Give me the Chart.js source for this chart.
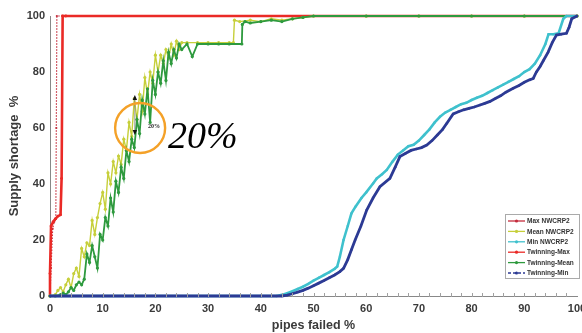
<!DOCTYPE html>
<html><head><meta charset="utf-8">
<script src="https://cdn.jsdelivr.net/npm/chart.js@4.4.0/dist/chart.umd.min.js"></script>
<style>html,body{margin:0;padding:0;background:#fff}canvas{display:block}</style>
</head><body>
<canvas id="c" width="582" height="333"></canvas>
<script>
// ---- data (x = pipes failed %, y = supply shortage %) ----
const maxNwcrpX = [0, 0.2, 0.5, 0.8, 1.1, 1.2, 1.3, 100];
const maxNwcrpY = [0, 10, 24, 26.5, 27.5, 60, 100, 100];

const meanNwcrpX = [0, 1, 1.5, 2, 2.5, 3, 3.5, 4, 4.5, 5, 5.5, 6, 6.5, 7, 7.5, 8, 8.5, 9, 9.5, 10, 10.5, 11, 11.5, 12, 12.5, 13, 13.5, 14, 14.5, 15, 15.5, 16, 16.5, 17, 17.5, 18, 18.5, 19, 19.5, 20, 20.5, 21, 21.5, 22, 22.5, 23, 23.5, 24, 24.5, 25, 26, 28, 30, 32, 34, 34.8, 35, 36, 38, 40, 42, 44, 46, 48, 50, 60, 70, 80, 90, 100];
const meanNwcrpY = [0, 0.5, 2, 3, 1.5, 4, 6, 3, 8, 10, 7, 17, 14, 19, 18, 27, 22, 28, 33, 37, 31, 44, 40, 48, 44, 50, 47, 56, 52, 62, 57, 70.5, 63, 72, 66, 78, 72, 80, 76, 86, 80, 86, 83, 88, 85, 90, 86, 91, 88, 90.5, 90.5, 90.5, 90.5, 90.5, 90.5, 90.5, 98.5, 98, 98.5, 98, 99, 98.5, 99, 99.5, 100, 100, 100, 100, 100, 100];

const minNwcrpX = [0, 10, 20, 30, 40, 43, 44, 45, 46, 47, 48, 49, 50, 51, 52, 53, 54, 54.5, 55, 55.7, 56.5, 57.2, 58, 59.1, 60, 61.3, 62, 63, 63.9, 65, 66, 67, 68, 69, 70, 71, 72, 73, 74, 75, 76, 77, 78, 79, 80, 81, 82, 83, 84, 85, 86, 87, 88, 89, 90, 91, 92, 93, 94, 94.6, 95.5, 96.5, 97.4, 98, 100];
const minNwcrpY = [0, 0, 0, 0, 0, 0, 0.4, 1, 1.7, 2.5, 3.3, 4.3, 5.5, 6.5, 7.5, 8.5, 9.7, 10.5, 14, 20, 25, 29.5, 32, 35, 37, 40.2, 42, 43.5, 45, 48, 50.5, 52, 53.5, 54, 55.5, 57.5, 59.5, 62, 64, 65.5, 66.5, 67.5, 68.5, 69, 70, 70.8, 71.5, 72.5, 73.5, 74.5, 75.5, 76.5, 77.5, 78.5, 80, 81, 83, 86, 90, 93.5, 93.5, 93.8, 99, 100, 100];

const twinMaxX = [0, 0, 0.2, 0.6, 1, 1.5, 2, 2.2, 2.4, 3, 100];
const twinMaxY = [0, 8, 25, 26.5, 27.5, 28.5, 29, 42, 100, 100, 100];

const twinMeanX = [0, 1, 2, 2.5, 3, 3.5, 4, 4.5, 5, 5.5, 6, 6.5, 7, 7.5, 8, 8.5, 9, 9.5, 10, 10.5, 11, 11.5, 12, 12.5, 13, 13.5, 14, 14.5, 15, 15.5, 16, 16.5, 17, 17.5, 18, 18.5, 19, 19.5, 20, 20.5, 21, 21.5, 22, 22.5, 23, 23.5, 24, 24.5, 25, 26, 27, 28, 30, 32, 34, 36.4, 36.5, 37, 38, 40, 42, 44, 46, 48, 50, 60, 70, 80, 90, 100];
const twinMeanY = [0, 0, 0.5, 1, 0.5, 1.5, 3, 2, 4, 5, 4, 6, 15, 12, 18, 14, 10, 22, 20, 28, 25, 35, 30, 41, 37, 46, 42, 52, 48, 56, 53, 63, 58, 70, 65, 74, 62, 77, 72, 80, 76, 84, 77, 87, 83, 88, 85, 90, 88, 90, 85.5, 90, 90, 90, 90, 90, 97, 98, 97.5, 98, 98.5, 98, 99, 99.5, 100, 100, 100, 100, 100, 100];

const twinMinX = [0, 10, 20, 30, 40, 44, 45, 46, 47, 48, 49, 50, 51, 52, 53, 54, 55, 55.7, 56.5, 57.2, 57.9, 59, 60.1, 61.3, 62.6, 64.5, 65.5, 66.4, 67.5, 68.5, 69.5, 70.5, 71.5, 72.5, 73.5, 74.5, 75.3, 76.5, 77.5, 78.5, 79.5, 80.5, 81.6, 82.5, 83.5, 84.5, 85.5, 86.5, 87.9, 89, 90, 91, 91.7, 92.3, 93, 93.6, 94.5, 95.3, 96.1, 97, 98, 98.5, 99, 100];
const twinMinY = [0, 0, 0, 0, 0, 0, 0.3, 0.8, 1.4, 2, 2.8, 3.7, 4.6, 5.5, 6.5, 7.5, 8.7, 9.9, 13, 16.5, 20, 25, 30.7, 35, 39, 42, 46, 49.8, 51, 52, 52.5, 53, 53.9, 55.5, 57.5, 59.5, 61.7, 65, 65.8, 66.5, 67, 67.5, 68.2, 68.8, 69.5, 70.5, 71.5, 72.8, 74.2, 75.2, 76.3, 77.2, 77.7, 80, 82, 84, 87, 90.5, 93.2, 93.5, 93.8, 96, 99, 100];

const seriesLabels = ['Max NWCRP2', 'Mean NWCRP2', 'Min NWCRP2', 'Twinning-Max', 'Twinning-Mean', 'Twinning-Min'];
const xTickStep = 10;
const yTickStep = 20;
const xAxisTitle = 'pipes failed %';
const yAxisTitle = 'Supply shortage  %';
// annotation: circle around the 20% gap, arrows, labels
const circleCenter = [17.1, 60];
const arrowUp = [16.1, 70.7];
const arrowDown = [16.1, 58.6];
const smallLabel = ['20%', 18.6, 60.4];
const bigLabel = ['20%', 22.4, 52.9];

// ---- chart ----
const pts = (xs, ys) => xs.map((x, i) => ({x: x, y: ys[i]}));
const FONT = '"Liberation Sans", Arial, sans-serif';

const minorTicks = {
  id: 'minorTicks',
  afterDraw(chart) {
    const {ctx, scales: {x, y}} = chart;
    ctx.save();
    ctx.strokeStyle = '#a0a0a0';
    ctx.lineWidth = 1;
    for (let v = 2; v < 100; v += 2) {
      const px = Math.round(x.getPixelForValue(v)) + 0.5;
      ctx.beginPath();
      ctx.moveTo(px, y.bottom + 1);
      ctx.lineTo(px, y.bottom - 3);
      ctx.stroke();
    }
    ctx.restore();
  }
};

const annot = {
  id: 'annot',
  afterDatasetsDraw(chart) {
    const {ctx, scales: {x, y}} = chart;
    ctx.save();
    ctx.strokeStyle = '#777';
    ctx.lineWidth = 0.8;
    ctx.beginPath();
    ctx.moveTo(x.getPixelForValue(arrowUp[0]), y.getPixelForValue(arrowUp[1]));
    ctx.lineTo(x.getPixelForValue(arrowDown[0]), y.getPixelForValue(arrowDown[1]));
    ctx.stroke();
    ctx.fillStyle = '#111';
    const ux = x.getPixelForValue(arrowUp[0]), uy = y.getPixelForValue(arrowUp[1]);
    ctx.beginPath(); ctx.moveTo(ux, uy - 3); ctx.lineTo(ux - 2.2, uy + 2); ctx.lineTo(ux + 2.2, uy + 2); ctx.closePath(); ctx.fill();
    const dx = x.getPixelForValue(arrowDown[0]), dy = y.getPixelForValue(arrowDown[1]);
    ctx.beginPath(); ctx.moveTo(dx, dy + 3); ctx.lineTo(dx - 2.2, dy - 2); ctx.lineTo(dx + 2.2, dy - 2); ctx.closePath(); ctx.fill();
    ctx.font = 'bold 6px "Liberation Serif", serif';
    ctx.textBaseline = 'middle';
    ctx.fillStyle = '#222';
    ctx.fillText(smallLabel[0], x.getPixelForValue(smallLabel[1]), y.getPixelForValue(smallLabel[2]));
    ctx.strokeStyle = '#f4a128';
    ctx.lineWidth = 2.4;
    ctx.beginPath();
    ctx.arc(x.getPixelForValue(circleCenter[0]), y.getPixelForValue(circleCenter[1]), 25, 0, Math.PI * 2);
    ctx.stroke();
    ctx.font = 'italic 38px "Liberation Serif", "Times New Roman", serif';
    ctx.textBaseline = 'alphabetic';
    ctx.fillStyle = '#000';
    ctx.fillText(bigLabel[0], x.getPixelForValue(bigLabel[1]), y.getPixelForValue(bigLabel[2]));
    ctx.restore();
  }
};

const boxLegend = {
  id: 'boxLegend',
  afterDraw(chart) {
    const {ctx, chartArea} = chart;
    const left = chartArea.right - 72, top = chartArea.bottom - 82, w = 75, h = 65;
    ctx.save();
    ctx.fillStyle = '#fff';
    ctx.fillRect(left, top, w, h);
    ctx.strokeStyle = '#aaa';
    ctx.lineWidth = 1;
    ctx.strokeRect(left + 0.5, top + 0.5, w - 1, h - 1);
    ctx.font = 'bold 6.5px ' + FONT;
    ctx.textBaseline = 'middle';
    chart.data.datasets.forEach((ds, i) => {
      const yy = top + 7 + i * 10.4;
      ctx.strokeStyle = ds.borderColor;
      ctx.lineWidth = 1.3;
      ctx.setLineDash(ds.legendDash || []);
      ctx.beginPath();
      ctx.moveTo(left + 3, yy);
      ctx.lineTo(left + 20, yy);
      ctx.stroke();
      ctx.setLineDash([]);
      ctx.fillStyle = ds.borderColor;
      ctx.beginPath();
      ctx.arc(left + 11.5, yy, 1.6, 0, Math.PI * 2);
      ctx.fill();
      ctx.fillStyle = '#333';
      ctx.fillText(ds.label, left + 22, yy + 0.5);
    });
    ctx.restore();
  }
};

new Chart(document.getElementById('c'), {
  type: 'line',
  data: {
    datasets: [
      {label: seriesLabels[0], data: pts(maxNwcrpX, maxNwcrpY), borderColor: '#c42c3c', borderWidth: 1.2,
       borderDash: [1.5, 1.5], legendDash: [], pointRadius: 1.1, pointBackgroundColor: '#c42c3c', pointBorderWidth: 0, order: 5},
      {label: seriesLabels[1], data: pts(meanNwcrpX, meanNwcrpY), borderColor: '#c6cf3a', borderWidth: 1.4,
       pointRadius: 1.6, pointBackgroundColor: '#c6cf3a', pointBorderWidth: 0, order: 3},
      {label: seriesLabels[2], data: pts(minNwcrpX, minNwcrpY), borderColor: '#3fc1cd', borderWidth: 2.6,
       pointRadius: 1.2, pointBackgroundColor: '#3fc1cd', pointBorderWidth: 0, order: 1},
      {label: seriesLabels[3], data: pts(twinMaxX, twinMaxY), borderColor: '#ea2a26', borderWidth: 2.6,
       pointRadius: 1.4, pointBackgroundColor: '#ea2a26', pointBorderWidth: 0, order: 4},
      {label: seriesLabels[4], data: pts(twinMeanX, twinMeanY), borderColor: '#2e9a3e', borderWidth: 1.8,
       pointRadius: 1.6, pointBackgroundColor: '#2e9a3e', pointBorderWidth: 0, order: 2},
      {label: seriesLabels[5], data: pts(twinMinX, twinMinY), borderColor: '#2c3a94', borderWidth: 2.8,
       legendDash: [3, 2], pointRadius: 1.2, pointBackgroundColor: '#2c3a94', pointBorderWidth: 0, order: 0}
    ]
  },
  options: {
    responsive: false,
    animation: false,
    events: [],
    elements: {line: {tension: 0}},
    datasets: {line: {clip: 6}},
    layout: {padding: {top: 16, right: 5, left: 0, bottom: 0}},
    plugins: {legend: {display: false}, tooltip: {enabled: false}},
    scales: {
      x: {
        type: 'linear', min: 0, max: 100,
        grid: {display: false, drawTicks: false},
        border: {display: true, color: '#888', width: 1},
        ticks: {stepSize: xTickStep, padding: 6, color: '#3a3a3a', maxRotation: 0, font: {family: FONT, size: 11, weight: 'bold'}},
        title: {display: true, text: xAxisTitle, color: '#3a3a3a', padding: {top: 0, bottom: 0}, font: {family: FONT, size: 12.5, weight: 'bold'}},
        afterFit: s => { s.height = 37; s.paddingLeft = 0; s.paddingRight = 0; }
      },
      y: {
        type: 'linear', min: 0, max: 100,
        grid: {display: false, drawTicks: false},
        border: {display: true, color: '#888', width: 1},
        ticks: {stepSize: yTickStep, padding: 5, color: '#3a3a3a', font: {family: FONT, size: 11, weight: 'bold'}},
        title: {display: true, text: yAxisTitle, color: '#3a3a3a', padding: {top: 7, bottom: 0}, font: {family: FONT, size: 13, weight: 'bold'}},
        afterFit: s => { s.width = 50; s.paddingTop = 0; s.paddingBottom = 0; }
      }
    }
  },
  plugins: [minorTicks, annot, boxLegend]
});
</script>
</body></html>
